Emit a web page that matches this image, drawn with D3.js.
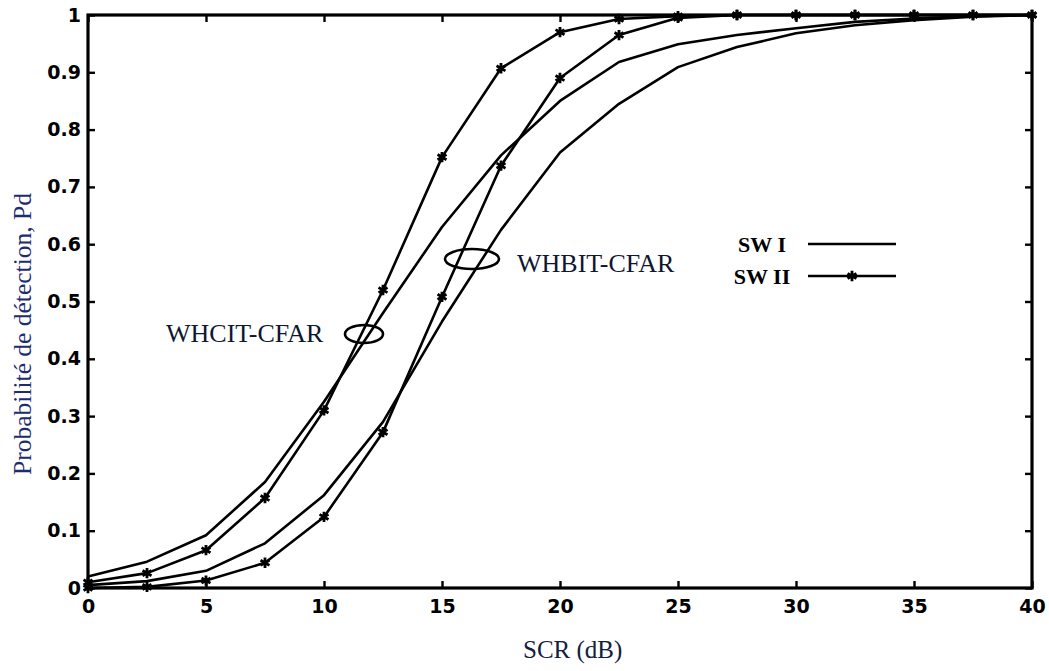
<!DOCTYPE html>
<html>
<head>
<meta charset="utf-8">
<script src="https://cdn.jsdelivr.net/npm/d3@7"></script>
<style>
  html, body { margin: 0; padding: 0; background: #ffffff; }
  svg { display: block; }
</style>
</head>
<body>
<svg id="chart" width="1049" height="671"></svg>
<script>
// SCR values (dB) shared by all curves
const scr = [0, 2.5, 5, 7.5, 10, 12.5, 15, 17.5, 20, 22.5, 25, 27.5, 30, 32.5, 35, 37.5, 40];

// Detection probability, WHCIT-CFAR
const whcitSW1 = [0.02, 0.046, 0.092, 0.185, 0.325, 0.48, 0.63, 0.755, 0.85, 0.918, 0.949, 0.965, 0.977, 0.988, 0.994, 0.998, 1.0];
const whcitSW2 = [0.01, 0.026, 0.066, 0.157, 0.31, 0.52, 0.752, 0.907, 0.97, 0.993, 0.998, 1, 1, 1, 1, 1, 1];

// Detection probability, WHBIT-CFAR
const whbitSW1 = [0.005, 0.012, 0.03, 0.078, 0.162, 0.29, 0.465, 0.625, 0.76, 0.845, 0.909, 0.944, 0.968, 0.982, 0.991, 0.997, 1.0];
const whbitSW2 = [0.0, 0.002, 0.013, 0.044, 0.124, 0.272, 0.508, 0.737, 0.89, 0.965, 0.995, 1, 1, 1, 1, 1, 1];

const xTicks = [0, 5, 10, 15, 20, 25, 30, 35, 40];
const yTicks = [0, 0.1, 0.2, 0.3, 0.4, 0.5, 0.6, 0.7, 0.8, 0.9, 1];
const yTickLabels = ["0", "0.1", "0.2", "0.3", "0.4", "0.5", "0.6", "0.7", "0.8", "0.9", "1"];

const svg = d3.select("#chart");
const plotLeft = 88, plotRight = 1032, plotTop = 15, plotBottom = 588;

const x = d3.scaleLinear().domain([0, 40]).range([plotLeft, plotRight]);
const y = d3.scaleLinear().domain([0, 1]).range([plotBottom, plotTop]);

const tickFont = "'DejaVu Sans', sans-serif";
const serif = "'Liberation Serif', 'Times New Roman', serif";

// Curves
const line = d3.line().x((d, i) => x(scr[i])).y(d => y(d));
const curves = [
  { values: whcitSW1, markers: false },
  { values: whcitSW2, markers: true },
  { values: whbitSW1, markers: false },
  { values: whbitSW2, markers: true }
];

const plot = svg.append("g");
curves.forEach(c => {
  plot.append("path")
    .attr("d", line(c.values))
    .attr("fill", "none")
    .attr("stroke", "#000")
    .attr("stroke-width", 2.6)
    .attr("stroke-linejoin", "round");
});

const marker = d3.symbol().type(d3.symbolAsterisk).size(75);
curves.filter(c => c.markers).forEach(c => {
  plot.selectAll(null)
    .data(c.values)
    .join("path")
    .attr("transform", (d, i) => `translate(${x(scr[i])},${y(d)})`)
    .attr("d", marker)
    .attr("fill", "none")
    .attr("stroke", "#000")
    .attr("stroke-width", 2.8);
});

// Axes: ticks inward on all four sides
const tickLen = 7;
const axisBottom = d3.axisBottom(x).tickValues(xTicks).tickSize(-tickLen).tickPadding(12).tickFormat(d3.format("d"));
const axisTop = d3.axisTop(x).tickValues(xTicks).tickSize(-tickLen).tickFormat("");
const axisLeft = d3.axisLeft(y).tickValues(yTicks).tickSize(-tickLen).tickPadding(7).tickFormat((d, i) => yTickLabels[i]);
const axisRight = d3.axisRight(y).tickValues(yTicks).tickSize(-tickLen).tickFormat("");

function styleAxis(g) {
  g.select(".domain").remove();
  g.selectAll(".tick line").attr("stroke", "#000").attr("stroke-width", 2.4);
  g.selectAll(".tick text")
    .attr("font-family", tickFont)
    .attr("font-weight", "bold")
    .attr("font-size", 19)
    .attr("fill", "#000");
}

svg.append("g").attr("transform", `translate(0,${plotBottom})`).call(axisBottom).call(styleAxis);
svg.append("g").attr("transform", `translate(0,${plotTop})`).call(axisTop).call(styleAxis);
svg.append("g").attr("transform", `translate(${plotLeft},0)`).call(axisLeft).call(styleAxis);
svg.append("g").attr("transform", `translate(${plotRight},0)`).call(axisRight).call(styleAxis);

// Plot frame
svg.append("rect")
  .attr("x", plotLeft).attr("y", plotTop)
  .attr("width", plotRight - plotLeft).attr("height", plotBottom - plotTop)
  .attr("fill", "none").attr("stroke", "#000").attr("stroke-width", 3.2);

// Axis titles
svg.append("text")
  .attr("x", 523).attr("y", 658)
  .attr("font-family", serif)
  .attr("font-size", 25)
  .attr("fill", "#14203f")
  .text("SCR (dB)");

svg.append("text")
  .attr("transform", "translate(31,334) rotate(-90)")
  .attr("text-anchor", "middle")
  .attr("font-family", serif)
  .attr("font-size", 25.5)
  .attr("fill", "#1c2c6e")
  .text("Probabilité de détection, Pd");

// Curve-group annotations with ellipses
const notes = [
  { label: "WHCIT-CFAR", lx: 166, ly: 333, ex: 364, ey: 334, rx: 19, ry: 9 },
  { label: "WHBIT-CFAR", lx: 517, ly: 263, ex: 472, ey: 259, rx: 27, ry: 10 }
];
notes.forEach(n => {
  svg.append("ellipse")
    .attr("cx", n.ex).attr("cy", n.ey).attr("rx", n.rx).attr("ry", n.ry)
    .attr("fill", "none").attr("stroke", "#000").attr("stroke-width", 2.6);
  svg.append("text")
    .attr("x", n.lx).attr("y", n.ly)
    .attr("dy", "0.35em")
    .attr("font-family", serif)
    .attr("font-size", 26)
    .attr("fill", "#0e1630")
    .text(n.label);
});

// Legend
const legend = svg.append("g");
const legendItems = [
  { label: "SW I", y: 244, markers: false },
  { label: "SW II", y: 276, markers: true }
];
legendItems.forEach(it => {
  legend.append("text")
    .attr("x", 762).attr("y", it.y)
    .attr("dy", "0.35em")
    .attr("text-anchor", "middle")
    .attr("font-family", serif)
    .attr("font-weight", "bold")
    .attr("font-size", 22)
    .attr("fill", "#000")
    .text(it.label);
  legend.append("line")
    .attr("x1", 808).attr("x2", 896)
    .attr("y1", it.y).attr("y2", it.y)
    .attr("stroke", "#000").attr("stroke-width", 2.6);
  if (it.markers) {
    legend.append("path")
      .attr("transform", `translate(852,${it.y})`)
      .attr("d", marker)
      .attr("fill", "none").attr("stroke", "#000").attr("stroke-width", 2.8);
  }
});
</script>
</body>
</html>
